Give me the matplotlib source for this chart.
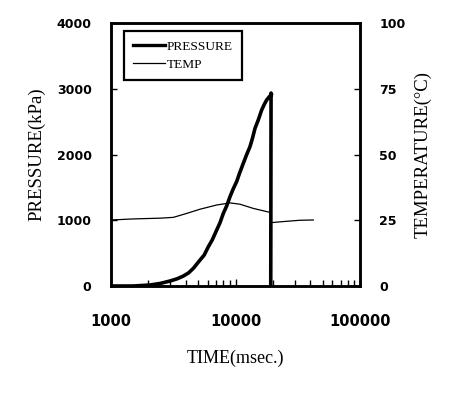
import matplotlib.pyplot as plt
from matplotlib.ticker import LogLocator, NullFormatter, FixedLocator
from matplotlib.lines import Line2D

# pressure (kPa) vs time (msec)
p_time = [1000, 1500, 2055, 2500, 2978, 3400, 3813, 4200, 4585, 5188, 5600,
          6053, 6500, 7062, 7500, 7985, 8500, 9033, 9600, 10210, 10800,
          11550, 12300, 13070, 13700, 14340, 15200, 16220, 17000, 17790,
          18700, 19510, 19300, 19190]
p_val = [0, 0, 15, 40, 76, 110, 152, 200, 269, 395, 470,
         598, 700, 852, 960, 1105, 1220, 1359, 1480, 1587, 1720,
         1866, 2000, 2119, 2250, 2398, 2520, 2677, 2760, 2829,
         2880, 2915, 2935, 0]

# temperature (deg C) vs time (msec)
t_time1 = [1000, 1500, 2500, 3170, 4055, 5188, 7062, 9033, 10860, 13900, 18920]
t_val1 = [25.1, 25.5, 25.8, 26.1, 27.6, 29.2, 30.8, 31.6, 31.1, 29.5, 28.0]
t_time2 = [19400, 24200, 32960, 42170]
t_val2 = [24.1, 24.5, 25.0, 25.1]

x_ticks = [1000, 10000, 100000]
p_ticks = [0, 1000, 2000, 3000, 4000]
t_ticks = [0, 25, 50, 75, 100]

serif = ['Liberation Serif', 'DejaVu Serif']
tickfont = dict(family='DejaVu Sans', weight='bold')

fig = plt.figure(figsize=(4.5, 3.94), dpi=100)
ax = fig.add_axes([0.2467, 0.2741, 0.5533, 0.6675])
ax2 = ax.twinx()

ax.plot(p_time, p_val, color='black', lw=2.6, solid_joinstyle='round')
ax2.plot(t_time1, t_val1, color='black', lw=0.9)
ax2.plot(t_time2, t_val2, color='black', lw=0.9)

ax.set_xscale('log')
ax.set_xlim(1000, 100000)
ax.set_ylim(0, 4000)
ax2.set_ylim(0, 100)

ax.xaxis.set_major_locator(FixedLocator(x_ticks))
ax.xaxis.set_minor_locator(LogLocator(base=10, subs=range(2, 10)))
ax.xaxis.set_minor_formatter(NullFormatter())
ax.set_xticklabels([str(v) for v in x_ticks], fontsize=10.5, **tickfont)
ax.set_yticks(p_ticks)
ax.set_yticklabels([str(v) for v in p_ticks], fontsize=9, **tickfont)
ax2.set_yticks(t_ticks)
ax2.set_yticklabels([str(v) for v in t_ticks], fontsize=9, **tickfont)

ax.tick_params(axis='x', which='major', direction='in', length=5, width=1, pad=20)
ax.tick_params(axis='x', which='minor', direction='in', length=4, width=1)
ax.tick_params(axis='y', direction='in', length=4, width=1, pad=14)
ax2.tick_params(axis='y', direction='in', length=4, width=1, pad=14)

for a in (ax, ax2):
    for s in a.spines.values():
        s.set_linewidth(1.8)

ax.set_xlabel('TIME(msec.)', fontsize=13, family=serif, labelpad=15)
ax.set_ylabel('PRESSURE(kPa)', fontsize=13.5, family=serif, labelpad=8)
ax2.set_ylabel('TEMPERATURE(°C)', fontsize=13.5, family=serif, labelpad=6)

handles = [Line2D([], [], color='black', lw=2.4), Line2D([], [], color='black', lw=0.9)]
leg = ax2.legend(handles, ['PRESSURE', 'TEMP'], loc='upper left',
                 bbox_to_anchor=(0.052, 0.97), borderaxespad=0, fancybox=False,
                 edgecolor='black', framealpha=1, handlelength=2.4,
                 handletextpad=0.1, labelspacing=0.45, borderpad=0.7,
                 prop=dict(family=serif, size=9.6))
leg.get_frame().set_linewidth(1.6)

fig.savefig('out.png', dpi=100)
